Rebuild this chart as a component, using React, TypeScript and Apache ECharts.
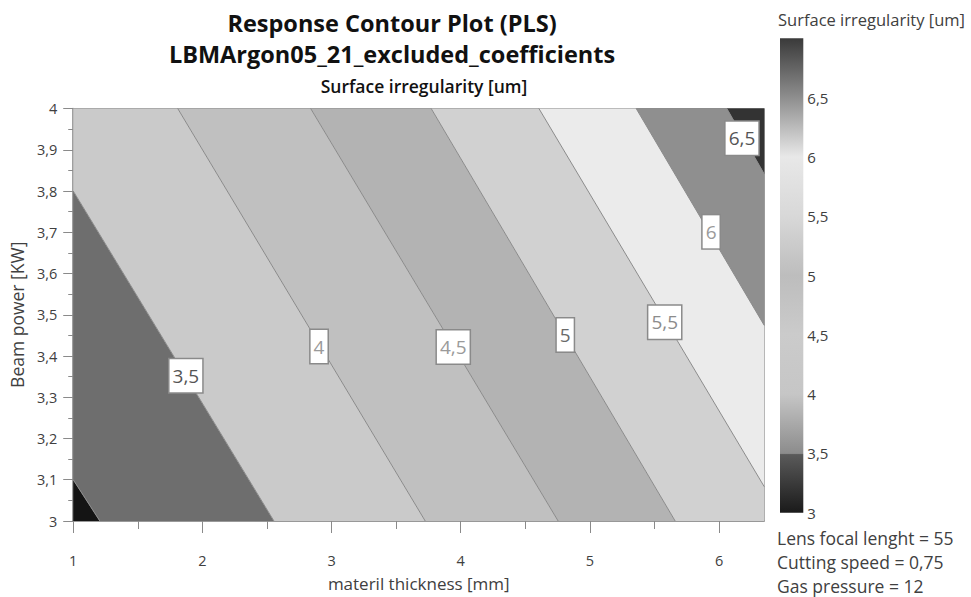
import React, { useEffect, useRef } from "react";
import * as echarts from "echarts";

// ---- data ----
const levels = [3, 3.5, 4, 4.5, 5, 5.5, 6, 6.5];
// each contour line: where it meets the plot border (data coordinates)
const lineX1 = [1, 1, 1.809, 2.838, 3.771, 4.605, 5.358, 6.06];
const lineY1 = [3.1, 3.8, 4, 4, 4, 4, 4, 4];
const lineX2 = [1.206, 2.554, 3.725, 4.754, 5.66, 6.35, 6.35, 6.35];
const lineY2 = [3, 3, 3, 3, 3, 3.083, 3.474, 3.841];
// fill of the band below the first level, between levels, and above the last
const bandColors = ["#141414", "#6e6e6e", "#cacaca", "#c0c0c0", "#b3b3b3", "#d1d1d1", "#ebebeb", "#8f8f8f", "#333333"];

const labelText = ["3,5", "4", "4,5", "5", "5,5", "6", "6,5"];
const labelX = [1.872, 2.903, 3.942, 4.809, 5.579, 5.938, 6.177];
const labelY = [3.352, 3.423, 3.422, 3.451, 3.482, 3.701, 3.928];
const labelColors = ["#555555", "#9a9a9a", "#9a9a9a", "#6a6a6a", "#8c8c8c", "#9a9a9a", "#555555"];

const xMin = 1;
const xMax = 6.35;
const yMin = 3;
const yMax = 4;
const xTicks = [1, 2, 3, 4, 5, 6];
const xMinorTicks = [1.5, 2.5, 3.5, 4.5, 5.5];

const colorbarMin = 3;
const colorbarMax = 7;
const colorbarTicks = [3, 3.5, 4, 4.5, 5, 5.5, 6, 6.5];
const colorbarValues = [3, 3.49, 3.5, 4, 4.5, 5, 5.5, 6, 6.5, 7];
const colorbarColors = ["#1a1a1a", "#5a5a5a", "#8c8c8c", "#c6c6c6", "#cbcbcb", "#bdbdbd", "#d8d8d8", "#e8e8e8", "#8e8e8e", "#3a3a3a"];

const factorLines = ["Lens focal lenght = 55", "Cutting speed = 0,75", "Gas pressure = 12"];

const FONT = "'Open Sans', 'Noto Sans', sans-serif";
const comma = (v: number) => String(Number(v.toFixed(2))).replace(".", ",");

type Pt = number[];
function clipHalf(poly: Pt[], a: Pt, b: Pt, keep: number): Pt[] {
  const side = (p: Pt) => ((b[0] - a[0]) * (p[1] - a[1]) - (b[1] - a[1]) * (p[0] - a[0])) * keep;
  const out: Pt[] = [];
  for (let i = 0; i < poly.length; i++) {
    const p = poly[i];
    const q = poly[(i + 1) % poly.length];
    const sp = side(p);
    const sq = side(q);
    if (sp >= 0) out.push(p);
    if ((sp >= 0) !== (sq >= 0)) {
      const t = sp / (sp - sq);
      out.push([p[0] + t * (q[0] - p[0]), p[1] + t * (q[1] - p[1])]);
    }
  }
  return out;
}

export default function App() {
  const ref = useRef<HTMLDivElement>(null);
  useEffect(() => {
    if (!ref.current) return;
    const chart = echarts.init(ref.current, null, { renderer: "svg" });

    const bandRender = (params: any, api: any) => {
      const i = api.value(0);
      const cs = params.coordSys;
      let poly: Pt[] = [
        [cs.x, cs.y],
        [cs.x + cs.width, cs.y],
        [cs.x + cs.width, cs.y + cs.height],
        [cs.x, cs.y + cs.height],
      ];
      const corner = api.coord([xMin, yMin]);
      const lowSign = (j: number) => {
        const a = api.coord([lineX1[j], lineY1[j]]);
        const b = api.coord([lineX2[j], lineY2[j]]);
        const s = (b[0] - a[0]) * (corner[1] - a[1]) - (b[1] - a[1]) * (corner[0] - a[0]);
        return { a, b, s: s >= 0 ? 1 : -1 };
      };
      if (i > 0) {
        const L = lowSign(i - 1);
        poly = clipHalf(poly, L.a, L.b, -L.s);
      }
      if (i < levels.length) {
        const L = lowSign(i);
        poly = clipHalf(poly, L.a, L.b, L.s);
      }
      if (poly.length < 3) return null;
      return { type: "polygon", shape: { points: poly }, style: { fill: bandColors[i] }, silent: true };
    };

    const lineRender = (params: any, api: any) => {
      const p1 = api.coord([api.value(0), api.value(1)]);
      const p2 = api.coord([api.value(2), api.value(3)]);
      return {
        type: "line",
        shape: { x1: p1[0], y1: p1[1], x2: p2[0], y2: p2[1] },
        style: { stroke: "#8a8a8a", lineWidth: 1 },
        silent: true,
      };
    };

    const stops = colorbarValues.map((v, i) => ({
      offset: (v - colorbarMin) / (colorbarMax - colorbarMin),
      color: colorbarColors[i],
    }));
    const colorbarRender = (params: any, api: any) => {
      const tl = api.coord([0, colorbarMax]);
      const br = api.coord([1, colorbarMin]);
      return {
        type: "rect",
        shape: { x: tl[0], y: tl[1], width: br[0] - tl[0], height: br[1] - tl[1] },
        style: { fill: new echarts.graphic.LinearGradient(0, 1, 0, 0, stops) },
        silent: true,
      };
    };

    const axisGray = "#8a8a8a";
    const textGray = "#404040";

    chart.setOption({
      animation: false,
      textStyle: { fontFamily: FONT },
      graphic: [
        { type: "text", x: 392, y: 23, style: { text: "Response Contour Plot (PLS)", font: `bold 23.5px ${FONT}`, fill: "#111", textAlign: "center", textVerticalAlign: "middle" } },
        { type: "text", x: 392, y: 54, style: { text: "LBMArgon05_21_excluded_coefficients", font: `bold 23.5px ${FONT}`, fill: "#111", textAlign: "center", textVerticalAlign: "middle" } },
        { type: "text", x: 424, y: 86, style: { text: "Surface irregularity [um]", font: `600 17.5px ${FONT}`, fill: "#111", textAlign: "center", textVerticalAlign: "middle" } },
        { type: "text", x: 778, y: 19, style: { text: "Surface irregularity [um]", font: `16.5px ${FONT}`, fill: textGray, textAlign: "left", textVerticalAlign: "middle" } },
        ...factorLines.map((t, i) => ({
          type: "text",
          x: 777,
          y: 538 + i * 24,
          style: { text: t, font: `17.5px ${FONT}`, fill: textGray, textAlign: "left", textVerticalAlign: "middle" },
        })),
      ],
      grid: [
        { left: 70.5, top: 108.5, right: 206.7, bottom: 67, show: true, borderColor: axisGray, borderWidth: 1, backgroundColor: "transparent" },
        { left: 780, top: 38.3, width: 23.3, height: 474.4 },
      ],
      xAxis: [
        {
          type: "value",
          gridIndex: 0,
          min: xMin,
          max: xMax,
          name: "materil thickness [mm]",
          nameLocation: "middle",
          nameGap: 54,
          nameTextStyle: { fontSize: 17, color: textGray, fontFamily: FONT },
          axisLine: { show: true, lineStyle: { color: axisGray, width: 1.5 } },
          axisTick: { show: true, customValues: xTicks, length: 12, lineStyle: { color: axisGray } },
          axisLabel: { customValues: xTicks, fontSize: 14.5, color: textGray, margin: 32, formatter: (v: number) => comma(v) },
          splitLine: { show: false },
        },
        {
          type: "value",
          gridIndex: 0,
          min: xMin,
          max: xMax,
          position: "bottom",
          axisLine: { show: false },
          axisTick: { show: true, customValues: xMinorTicks, length: 8, lineStyle: { color: axisGray } },
          axisLabel: { show: false },
          splitLine: { show: false },
        },
        { type: "value", gridIndex: 1, min: 0, max: 1, show: false },
      ],
      yAxis: [
        {
          type: "value",
          gridIndex: 0,
          min: yMin,
          max: yMax,
          interval: 0.1,
          name: "Beam power [KW]",
          nameLocation: "middle",
          nameGap: 40,
          nameTextStyle: { fontSize: 17.5, color: textGray, fontFamily: FONT },
          axisLine: { show: true, lineStyle: { color: axisGray, width: 1.5 } },
          axisTick: { show: true, length: 10, lineStyle: { color: axisGray } },
          minorTick: { show: true, splitNumber: 2, length: 5, lineStyle: { color: axisGray } },
          axisLabel: { fontSize: 14.5, color: textGray, margin: 16, formatter: (v: number) => comma(v) },
          splitLine: { show: false },
        },
        {
          type: "value",
          gridIndex: 1,
          min: colorbarMin,
          max: colorbarMax,
          interval: 0.5,
          position: "right",
          axisLine: { show: false },
          axisTick: { show: false },
          splitLine: { show: false },
          axisLabel: {
            customValues: colorbarTicks,
            fontSize: 15,
            color: textGray,
            margin: 4,
            formatter: (v: number) => comma(v),
          },
        },
      ],
      series: [
        {
          type: "custom",
          xAxisIndex: 0,
          yAxisIndex: 0,
          renderItem: bandRender,
          data: bandColors.map((_, i) => [i]),
          encode: { x: -1, y: -1 },
          z: 1,
        },
        {
          type: "custom",
          xAxisIndex: 0,
          yAxisIndex: 0,
          renderItem: lineRender,
          data: levels.map((_, i) => [lineX1[i], lineY1[i], lineX2[i], lineY2[i]]),
          encode: { x: [0, 2], y: [1, 3] },
          z: 2,
        },
        {
          type: "scatter",
          xAxisIndex: 0,
          yAxisIndex: 0,
          symbolSize: 0,
          z: 3,
          itemStyle: { opacity: 1 },
          emphasis: { disabled: true },
          data: labelText.map((t, i) => ({
            value: [labelX[i], labelY[i]],
            name: t,
            label: { color: labelColors[i] },
          })),
          label: {
            show: true,
            position: "inside",
            formatter: (p: any) => p.name,
            fontSize: 19,
            fontFamily: FONT,
            lineHeight: 22,
            opacity: 1,
            backgroundColor: "#ffffff",
            borderColor: "#8a8a8a",
            borderWidth: 1.5,
            padding: [6, 3, 5, 3],
          },
          silent: true,
        },
        {
          type: "custom",
          xAxisIndex: 2,
          yAxisIndex: 1,
          renderItem: colorbarRender,
          data: [[0, colorbarMin]],
          z: 1,
        },
      ],
    });
    return () => chart.dispose();
  }, []);
  return <div ref={ref} style={{ width: 971, height: 597, position: "absolute", left: 0, top: 0 }} />;
}
